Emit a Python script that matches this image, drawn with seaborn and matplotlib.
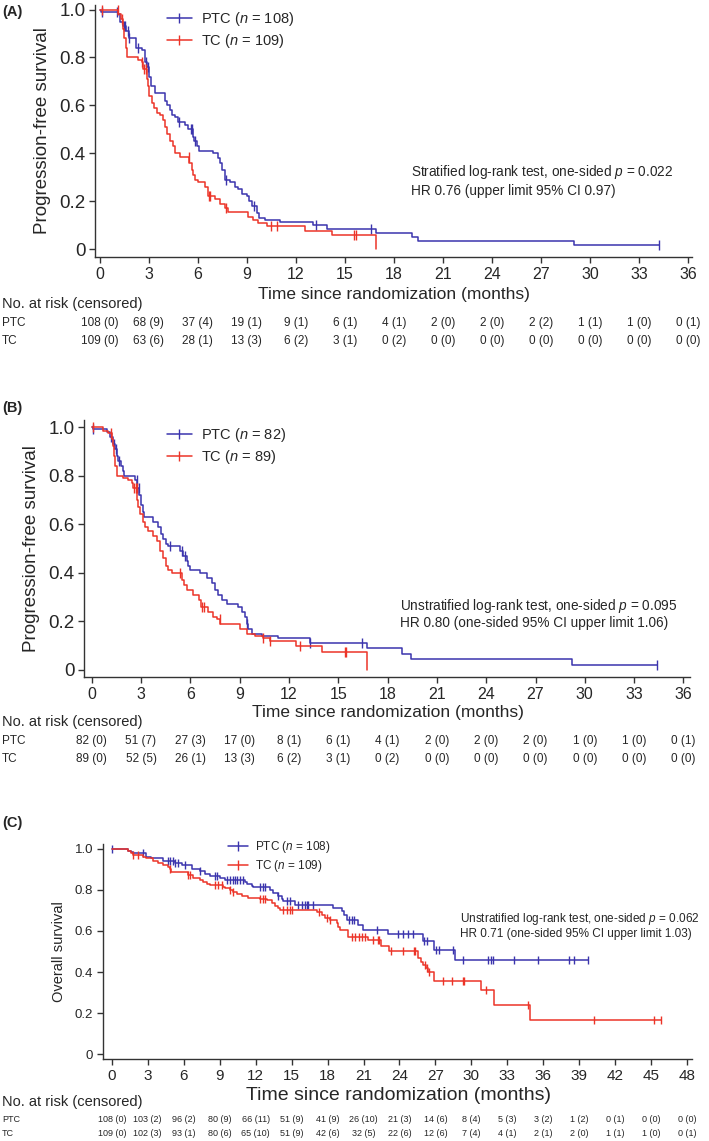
import numpy as np
import pandas as pd
import matplotlib
matplotlib.use("Agg")
import matplotlib.pyplot as plt
import matplotlib.transforms as mtransforms
from matplotlib.lines import Line2D
import seaborn as sns

# ---- colours -------------------------------------------------------------
BLUE = "#3b34ad"
RED = "#ec3428"

# ---- panel A: PFS, full population ---------------------------------------
a_ptc_t = [0, 0.05, 1.1, 1.2, 1.4, 1.6, 1.8, 2.2, 2.55, 2.75, 2.9, 3.0, 3.15, 3.35,
           3.98, 4.08, 4.29, 4.43, 4.59, 4.8, 5.2, 5.41, 5.71, 5.78, 5.92, 6.06,
           6.94, 7.24, 7.35, 7.45, 7.65, 7.96, 8.27, 8.47, 8.67, 8.98, 9.14, 9.31,
           9.59, 9.76, 10.1, 11.0, 13.06, 13.9, 16.9, 19.1, 19.5, 29.0, 34.2]
a_ptc_s = [1.0, 0.991, 0.98, 0.95, 0.93, 0.91, 0.88, 0.84, 0.83, 0.78, 0.76, 0.72, 0.68, 0.65,
           0.62, 0.60, 0.58, 0.56, 0.55, 0.53, 0.52, 0.50, 0.47, 0.45, 0.43, 0.41,
           0.40, 0.38, 0.36, 0.33, 0.29, 0.28, 0.26, 0.25, 0.23, 0.22, 0.20, 0.18,
           0.15, 0.13, 0.12, 0.115, 0.10, 0.084, 0.068, 0.05, 0.033, 0.017, 0.017]
a_ptc_cens = [0.1, 1.05, 1.45, 1.55, 1.7, 1.8, 2.35, 2.85, 2.95, 4.85, 5.55, 5.65, 5.8,
              7.7, 9.45, 13.2, 16.6, 34.2]

a_tc_t = [0, 1.12, 1.27, 1.39, 1.49, 1.57, 1.63, 2.35, 2.55, 2.65, 2.86, 2.94, 3.02, 3.16,
          3.31, 3.47, 3.67, 3.88, 3.98, 4.08, 4.29, 4.45, 4.59, 4.9, 5.47, 5.61, 5.71,
          5.82, 6.02, 6.43, 6.63, 7.04, 7.35, 7.65, 7.86, 9.08, 9.39, 9.69, 10.2, 12.55,
          14.18, 16.9]
a_tc_s = [1.0, 0.98, 0.96, 0.92, 0.88, 0.84, 0.80, 0.79, 0.78, 0.75, 0.71, 0.68, 0.64, 0.61,
          0.59, 0.57, 0.56, 0.54, 0.51, 0.48, 0.45, 0.43, 0.40, 0.385, 0.36, 0.33, 0.31,
          0.29, 0.28, 0.26, 0.22, 0.21, 0.19, 0.17, 0.155, 0.135, 0.12, 0.11, 0.095, 0.075,
          0.057, 0.0]
a_tc_cens = [0.15, 1.1, 1.35, 2.55, 2.7, 2.8, 5.45, 6.65, 6.75, 7.75, 10.45, 10.85,
             15.55, 15.65]

# ---- panel B: PFS, subgroup ------------------------------------------------
b_ptc_t = [0, 0.05, 0.91, 1.12, 1.28, 1.42, 1.52, 1.62, 1.76, 1.89, 1.97, 2.64, 2.78, 2.9,
           2.98, 3.1, 3.2, 3.75, 4.06, 4.22, 4.36, 4.5, 4.67, 5.38, 5.58, 5.78, 5.88,
           5.98, 6.59, 7.0, 7.3, 7.5, 7.71, 7.91, 8.22, 8.92, 9.13, 9.33, 9.43, 9.53,
           9.74, 10.34, 11.36, 13.29, 16.75, 18.9, 19.4, 29.25, 34.4]
b_ptc_s = [1.0, 0.99, 0.98, 0.96, 0.93, 0.91, 0.88, 0.86, 0.84, 0.82, 0.80, 0.78, 0.75, 0.72,
           0.68, 0.65, 0.63, 0.61, 0.59, 0.56, 0.54, 0.52, 0.51, 0.49, 0.47, 0.45, 0.43,
           0.41, 0.40, 0.38, 0.36, 0.33, 0.31, 0.29, 0.27, 0.26, 0.24, 0.22, 0.19, 0.17,
           0.15, 0.14, 0.13, 0.113, 0.092, 0.065, 0.044, 0.022, 0.022]
b_ptc_cens = [0.05, 1.2, 1.35, 1.5, 1.65, 2.75, 2.85, 4.75, 5.5, 5.65, 9.45, 13.3,
              16.45, 34.4]

b_tc_t = [0, 0.71, 1.0, 1.22, 1.32, 1.38, 1.44, 1.52, 1.89, 2.23, 2.43, 2.54, 2.78, 2.84,
          2.94, 3.1, 3.25, 3.45, 3.75, 3.96, 4.16, 4.36, 4.5, 4.67, 4.87, 5.48, 5.62,
          5.78, 6.19, 6.53, 6.65, 7.1, 7.4, 7.6, 7.81, 9.03, 9.43, 9.94, 10.45, 10.85,
          12.4, 14.0, 16.75]
b_tc_s = [1.0, 0.985, 0.975, 0.95, 0.92, 0.88, 0.84, 0.80, 0.79, 0.78, 0.77, 0.75, 0.70, 0.67,
          0.64, 0.61, 0.59, 0.57, 0.55, 0.53, 0.49, 0.46, 0.43, 0.41, 0.40, 0.37, 0.35,
          0.33, 0.31, 0.29, 0.26, 0.24, 0.22, 0.21, 0.19, 0.17, 0.15, 0.14, 0.13, 0.12,
          0.099, 0.074, 0.0]
b_tc_cens = [0.05, 1.15, 2.6, 2.7, 2.75, 5.35, 6.7, 6.85, 7.8, 10.45, 10.85, 12.7,
             15.4, 15.5]

# ---- panel C: overall survival ---------------------------------------------
c_ptc_t = [0, 1.36, 1.59, 1.78, 2.89, 3.31, 4.29, 5.26, 5.82, 6.66, 7.35, 7.77, 8.19, 9.02,
           9.44, 11.11, 11.25, 11.67, 11.81, 13.2, 13.48, 13.9, 14.18, 14.31, 15.29,
           18.49, 19.19, 19.4, 19.61, 20.5, 20.93, 23.01, 25.93, 26.91, 28.63, 39.7]
c_ptc_s = [1.0, 0.99, 0.985, 0.979, 0.963, 0.955, 0.94, 0.93, 0.92, 0.90, 0.89, 0.88, 0.87, 0.86,
           0.849, 0.84, 0.83, 0.82, 0.813, 0.80, 0.785, 0.77, 0.758, 0.745, 0.727,
           0.711, 0.695, 0.679, 0.654, 0.63, 0.606, 0.585, 0.549, 0.508, 0.46, 0.46]
c_ptc_cens = [0.0, 2.62, 4.71, 4.84, 5.12, 5.26, 5.54, 6.1, 7.35, 8.6, 8.74, 9.58, 9.86,
              10.14, 10.28, 10.42, 10.7, 10.97, 12.36, 12.64, 12.78, 13.9, 14.6, 14.87,
              15.56, 15.84, 16.12, 16.26, 16.4, 16.81, 19.8, 20.0, 20.2, 22.12, 23.85,
              24.26, 24.68, 25.1, 26.07, 26.27, 27.05, 27.33, 28.46, 29.27, 31.35, 31.63,
              31.83, 33.57, 35.58, 38.17, 38.59, 39.7]

c_tc_t = [0, 1.36, 1.59, 1.78, 2.62, 2.89, 3.45, 3.87, 4.29, 4.71, 4.84, 4.98, 6.38, 6.79,
          7.35, 7.63, 7.91, 8.19, 9.3, 9.44, 9.86, 10.14, 10.42, 10.83, 11.39, 12.36,
          12.92, 13.34, 13.62, 13.9, 14.04, 17.1, 17.52, 17.8, 18.21, 18.77, 18.91, 19.05,
          19.74, 21.35, 22.46, 23.15, 25.52, 25.8, 25.93, 26.2, 26.4, 26.91, 30.8, 31.85,
          34.88, 45.82]
c_tc_s = [1.0, 0.99, 0.98, 0.97, 0.963, 0.955, 0.94, 0.93, 0.92, 0.91, 0.90, 0.889, 0.873, 0.86,
          0.85, 0.84, 0.83, 0.824, 0.815, 0.81, 0.80, 0.79, 0.78, 0.77, 0.76, 0.755,
          0.75, 0.735, 0.72, 0.71, 0.703, 0.692, 0.68, 0.665, 0.654, 0.64, 0.62, 0.606,
          0.573, 0.554, 0.529, 0.50, 0.468, 0.45, 0.435, 0.42, 0.40, 0.357, 0.31, 0.241,
          0.164, 0.164]
c_tc_cens = [1.78, 2.2, 4.84, 6.38, 6.5, 8.6, 8.88, 9.16, 9.86, 10.14, 12.36, 12.64, 12.78,
             14.31, 14.6, 14.87, 15.01, 17.3, 17.94, 18.21, 20.04, 20.32, 20.6, 20.88,
             21.15, 21.77, 22.18, 22.32, 23.29, 24.26, 25.24, 25.32, 26.1, 26.3, 26.5,
             27.6, 28.4, 29.27, 29.41, 31.22, 34.69, 40.26, 45.27, 45.82]

# ---- numbers at risk (censored) -------------------------------------------
risk_times_ab = list(range(0, 37, 3))
a_ptc_risk = [108, 68, 37, 19, 9, 6, 4, 2, 2, 2, 1, 1, 0]
a_ptc_rcen = [0, 9, 4, 1, 1, 1, 1, 0, 0, 2, 1, 0, 1]
a_tc_risk = [109, 63, 28, 13, 6, 3, 0, 0, 0, 0, 0, 0, 0]
a_tc_rcen = [0, 6, 1, 3, 2, 1, 2, 0, 0, 0, 0, 0, 0]

b_ptc_risk = [82, 51, 27, 17, 8, 6, 4, 2, 2, 2, 1, 1, 0]
b_ptc_rcen = [0, 7, 3, 0, 1, 1, 1, 0, 0, 0, 0, 0, 1]
b_tc_risk = [89, 52, 26, 13, 6, 3, 0, 0, 0, 0, 0, 0, 0]
b_tc_rcen = [0, 5, 1, 3, 2, 1, 2, 0, 0, 0, 0, 0, 0]

risk_times_c = list(range(0, 49, 3))
c_ptc_risk = [108, 103, 96, 80, 66, 51, 41, 26, 21, 14, 8, 5, 3, 1, 0, 0, 0]
c_ptc_rcen = [0, 2, 2, 9, 11, 9, 9, 10, 3, 6, 4, 3, 2, 2, 1, 0, 0]
c_tc_risk = [109, 102, 93, 80, 65, 51, 42, 32, 22, 12, 7, 4, 2, 2, 1, 1, 0]
c_tc_rcen = [0, 3, 1, 6, 10, 9, 6, 5, 6, 6, 4, 1, 1, 0, 1, 0, 1]

# ---- style -----------------------------------------------------------------
sns.set_theme(style="ticks")
FONT = "Liberation Sans"
plt.rcParams["font.family"] = [FONT, "DejaVu Sans"]
plt.rcParams["mathtext.fontset"] = "custom"
plt.rcParams["mathtext.it"] = FONT + ":italic"
plt.rcParams["mathtext.rm"] = FONT
plt.rcParams["axes.linewidth"] = 1.0
plt.rcParams["xtick.major.width"] = 1.0
plt.rcParams["ytick.major.width"] = 1.0

W, H = 709, 1141
fig = plt.figure(figsize=(W / 100, H / 100), dpi=100)


def fy(px):
    return 1 - px / H


def fx(px):
    return px / W


def step_at(t, s, x):
    idx = np.searchsorted(np.asarray(t), np.asarray(x), side="right") - 1
    return np.asarray(s)[idx]


def draw_curve(ax, t, s, cens, color, msize):
    df = pd.DataFrame({"time": t, "surv": s})
    sns.lineplot(data=df, x="time", y="surv", drawstyle="steps-post", color=color,
                 lw=1.1, estimator=None, sort=False, ax=ax)
    ax.plot(cens, step_at(t, s, cens), ls="none", marker="|", color=color,
            markersize=msize, markeredgewidth=1.0)


def panel(rect, xlim, ylim, xmax, curves, ytick_fs, xtick_fs, ylabel, ylabel_fs, msize):
    ax = fig.add_axes(rect)
    for t, s, cens, col in curves:
        draw_curve(ax, t, s, cens, col, msize)
    ax.set_xlim(*xlim)
    ax.set_ylim(*ylim)
    ax.set_xticks(range(0, xmax + 1, 3))
    ax.set_yticks([0, 0.2, 0.4, 0.6, 0.8, 1.0])
    ax.set_yticklabels(["0", "0.2", "0.4", "0.6", "0.8", "1.0"])
    ax.tick_params(axis="y", labelsize=ytick_fs, length=4, pad=3, color="#333333")
    ax.tick_params(axis="x", labelsize=xtick_fs, length=4, pad=3, color="#333333")
    ax.set_xlabel("")
    ax.set_ylabel(ylabel, fontsize=ylabel_fs, labelpad=6)
    sns.despine(ax=ax)
    for sp in ax.spines.values():
        sp.set_color("#333333")
    return ax


def risk_table(ax, times, rows, ys, fs, label_fs):
    tr = mtransforms.blended_transform_factory(ax.transData, fig.transFigure)
    for (name, risk, cen), y in zip(rows, ys):
        fig.text(fx(2), fy(y), name, fontsize=label_fs, va="center", ha="left")
        for x, n, c in zip(times, risk, cen):
            ax.text(x, fy(y), f"{n} ({c})", transform=tr, fontsize=fs,
                    ha="center", va="center")


def legend(labels, x, y, fs):
    handles = [Line2D([], [], color=BLUE, lw=1.1, marker="|", markersize=7),
               Line2D([], [], color=RED, lw=1.1, marker="|", markersize=7)]
    fig.legend(handles, labels, loc="upper left", bbox_to_anchor=(fx(x), fy(y)),
               frameon=False, fontsize=fs, handlelength=1.7, handletextpad=0.6,
               labelspacing=0.25, borderpad=0, borderaxespad=0)


# ---- Panel A ---------------------------------------------------------------
axA = panel([fx(95), fy(257), fx(597), 252 / H], (-0.3, 36.25), (-0.033, 1.019), 36,
            [(a_ptc_t, a_ptc_s, a_ptc_cens, BLUE), (a_tc_t, a_tc_s, a_tc_cens, RED)],
            13.5, 11.5, "Progression-free survival", 13.5, 7)
fig.text(fx(2), fy(12), "(A)", fontsize=10.5, fontweight="bold", va="center")
fig.text(fx(394), fy(294), "Time since randomization (months)", fontsize=12.5,
         ha="center", va="center")
fig.text(fx(2), fy(304), "No. at risk (censored)", fontsize=10.5, va="center")
risk_table(axA, risk_times_ab,
           [("PTC", a_ptc_risk, a_ptc_rcen), ("TC", a_tc_risk, a_tc_rcen)],
           [323, 341], 8.5, 8.5)
legend(["PTC ($n$ = 108)", "TC ($n$ = 109)"], 167, 10, 10.5)
fig.text(fx(411), fy(172), "Stratified log-rank test, one-sided $p$ = 0.022",
         fontsize=9.8, va="center")
fig.text(fx(411), fy(191), "HR 0.76 (upper limit 95% CI 0.97)", fontsize=9.8, va="center")

# ---- Panel B ---------------------------------------------------------------
axB = panel([fx(84), fy(677), fx(606), 257 / H], (-0.47, 36.4), (-0.029, 1.029), 36,
            [(b_ptc_t, b_ptc_s, b_ptc_cens, BLUE), (b_tc_t, b_tc_s, b_tc_cens, RED)],
            13.5, 11.5, "Progression-free survival", 13.5, 7)
fig.text(fx(2), fy(408), "(B)", fontsize=10.5, fontweight="bold", va="center")
fig.text(fx(388), fy(712), "Time since randomization (months)", fontsize=12.5,
         ha="center", va="center")
fig.text(fx(2), fy(722), "No. at risk (censored)", fontsize=10.5, va="center")
risk_table(axB, risk_times_ab,
           [("PTC", b_ptc_risk, b_ptc_rcen), ("TC", b_tc_risk, b_tc_rcen)],
           [741, 759], 8.5, 8.5)
legend(["PTC ($n$ = 82)", "TC ($n$ = 89)"], 167, 426, 10.5)
fig.text(fx(400), fy(606), "Unstratified log-rank test, one-sided $p$ = 0.095",
         fontsize=9.8, va="center")
fig.text(fx(400), fy(623), "HR 0.80 (one-sided 95% CI upper limit 1.06)", fontsize=9.8,
         va="center")

# ---- Panel C ---------------------------------------------------------------
axC = panel([fx(103), fy(1059), fx(589), 215 / H], (-0.73, 48.4), (-0.024, 1.024), 48,
            [(c_ptc_t, c_ptc_s, c_ptc_cens, BLUE), (c_tc_t, c_tc_s, c_tc_cens, RED)],
            9.5, 11, "Overall survival", 10.5, 5.5)
fig.text(fx(2), fy(823), "(C)", fontsize=10.5, fontweight="bold", va="center")
fig.text(fx(399), fy(1096), "Time since randomization (months)", fontsize=14,
         ha="center", va="center")
fig.text(fx(2), fy(1102), "No. at risk (censored)", fontsize=10.5, va="center")
risk_table(axC, risk_times_c,
           [("PTC", c_ptc_risk, c_ptc_rcen), ("TC", c_tc_risk, c_tc_rcen)],
           [1120, 1134], 6.5, 6.5)
legend(["PTC ($n$ = 108)", "TC ($n$ = 109)"], 228, 839, 8.5)
fig.text(fx(460), fy(919), "Unstratified log-rank test, one-sided $p$ = 0.062",
         fontsize=8.5, va="center")
fig.text(fx(460), fy(934), "HR 0.71 (one-sided 95% CI upper limit 1.03)", fontsize=8.5,
         va="center")

fig.savefig("out.png", dpi=100)
